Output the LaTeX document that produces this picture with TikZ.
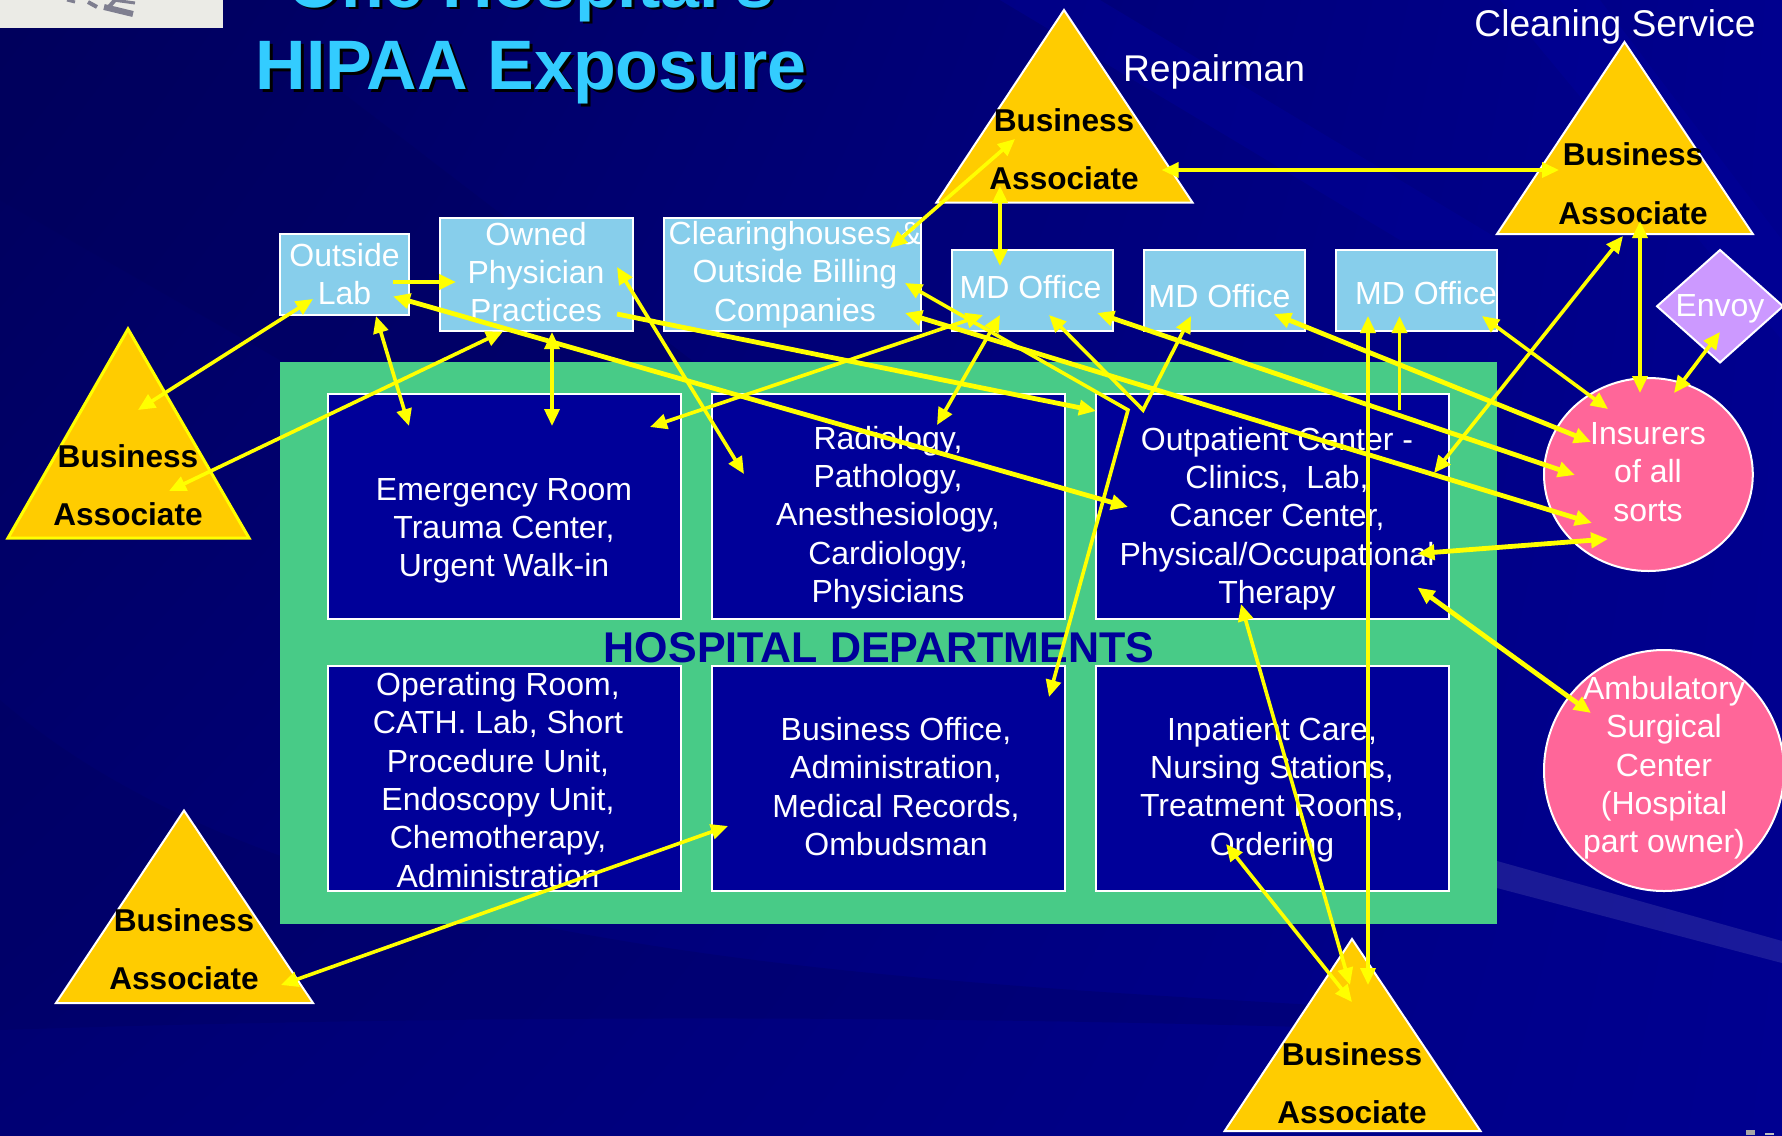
\documentclass[tikz,border=0pt]{standalone}
\usepackage{fontspec}
\setmainfont{Liberation Sans}
\usetikzlibrary{arrows.meta,shapes.geometric,shadings}
\definecolor{bgA}{HTML}{00005C}
\definecolor{bgB}{HTML}{00008E}
\definecolor{bgC}{HTML}{000074}
\definecolor{bgD}{HTML}{000090}
\definecolor{dept}{HTML}{000099}
\definecolor{grn}{HTML}{48CB87}
\definecolor{sky}{HTML}{87CEEB}
\definecolor{gold}{HTML}{FFCC00}
\definecolor{pinkc}{HTML}{FF6699}
\definecolor{purp}{HTML}{CC99FF}
\definecolor{ttl}{HTML}{33CCFF}
\definecolor{ylw}{HTML}{FFFF00}
\definecolor{photo}{HTML}{EBEBE6}
\definecolor{ink}{HTML}{7F7F90}
\tikzset{
 x=0.5pt,y=-0.5pt,
 deptbox/.style={draw=white,line width=1pt,fill=dept,inner sep=0pt,outer sep=0pt,minimum width=176.2pt},
 skybox/.style={draw=white,line width=1pt,fill=sky,inner sep=0pt,outer sep=0pt,minimum height=40.5pt},
 oval/.style={ellipse,draw=white,line width=1pt,fill=pinkc,inner sep=0pt,outer sep=0pt},
 tri/.style={draw=white,line width=1pt,fill=gold,line join=miter},
 wt/.style={text=white,font=\fontsize{16}{19.15}\selectfont,align=center,inner sep=0pt},
 wtb/.style={text=white,font=\fontsize{18.6}{22}\selectfont,align=center,inner sep=0pt},
 bl/.style={text=black,font=\fontsize{15.8}{19}\selectfont\bfseries,inner sep=0pt},
 ar/.style={draw=ylw,fill=ylw,line width=1.8pt,{Triangle[length=8.5pt,width=7.5pt]}-{Triangle[length=8.5pt,width=7.5pt]}},
 arT/.style={ar,line width=2.4pt},
 ar1/.style={draw=ylw,fill=ylw,line width=1.8pt,-{Triangle[length=8.5pt,width=7.5pt]}},
 ar1T/.style={ar1,line width=2.4pt},
 ttlf/.style={font=\fontsize{35}{41}\selectfont\bfseries,align=center,inner sep=0pt}
}
\begin{document}
\begin{tikzpicture}
\useasboundingbox (0,0) rectangle (1782,1135);
\clip (0,0) rectangle (1782,1135);
% background
\shade[upper left=bgA,upper right=bgB,lower left=bgC,lower right=bgD] (0,0) rectangle (1782,1135);
\fill[bgA,opacity=.35] (0,60) -- (300,60) -- (900,520) -- (280,360) -- (0,200) -- cycle;
\fill[bgA,opacity=.3] (0,700) .. controls (300,960) and (900,980) .. (1400,1010) -- (1400,1030) .. controls (800,1010) and (300,1020) .. (0,1030) -- cycle;
\fill[dept,opacity=.45] (1000,0) -- (1100,0) -- (1500,240) -- (1400,240) -- cycle;
\fill[dept,opacity=.5] (1500,0) -- (1600,0) -- (1782,240) -- (1782,340) -- cycle;
\fill[white,opacity=.1] (1497,861) -- (1782,941) -- (1782,963) -- (1497,888) -- cycle;
% photo fragment
\fill[photo] (0,0) rectangle (223,27.5);
\draw[ink,line width=3pt] (104,7) -- (133,14);
\draw[ink,line width=1.5pt] (113,0) -- (135,3);
\draw[ink,line width=2pt] (108,8) -- (115,0);
\draw[ink,line width=2pt] (88,2) -- (97,7);
\draw[ink,line width=1.5pt] (67,0) -- (75,2);
% corner marks
\fill[gray!70] (1746,1130) rectangle (1755,1135);
\fill[gray!50] (1765,1133) rectangle (1774,1135);
% title
\node[ttlf,text=black,anchor=base] at (534,10) {One Hospital's};
\node[ttlf,text=black,anchor=base] at (534,92) {HIPAA Exposure};
\node[ttlf,text=ttl,anchor=base] (t1) at (531,7) {One Hospital's};
\node[ttlf,text=ttl,anchor=base] (t2) at (531,89) {HIPAA Exposure};
% hospital block
\node[fill=grn,inner sep=0pt,outer sep=0pt,minimum width=608.9pt,minimum height=281.15pt] (hosp) at (888.5,642.65) {};
\node[deptbox,minimum height=112.35pt] (er) at (504.6,506.35) {};
\node[deptbox,minimum height=112.35pt] (rad) at (888.6,506.35) {};
\node[deptbox,minimum height=112.35pt] (opc) at (1272.35,506.35) {};
\node[deptbox,minimum height=112.25pt] (orm) at (504.6,778.55) {};
\node[deptbox,minimum height=112.25pt] (biz) at (888.6,778.55) {};
\node[deptbox,minimum height=112.25pt] (inp) at (1272.35,778.55) {};
\node[wt] (ertx) at (504,531) {Emergency Room\\Trauma Center,\\Urgent Walk-in};
\node[wt] (radtx) at (888,517.5) {Radiology,\\Pathology,\\Anesthesiology,\\Cardiology,\\Physicians};
\node[wt] (opctx) at (1277,518.5) {Outpatient Center -\\Clinics,\ \ Lab,\\Cancer Center,\\Physical/Occupational\\Therapy};
\node[wt] (ormtx) at (498,780) {Operating Room,\\CATH. Lab, Short\\Procedure Unit,\\Endoscopy Unit,\\Chemotherapy,\\Administration};
\node[wt] (biztx) at (896,786.5) {Business Office,\\Administration,\\Medical Records,\\Ombudsman};
\node[wt] (inptx) at (1272,789.5) {Inpatient Care,\\Nursing Stations,\\Treatment Rooms,\\Ordering};
\node[font=\fontsize{21.5}{25}\selectfont\bfseries,text=dept,inner sep=0pt] (hd) at (879,648) {HOSPITAL DEPARTMENTS};
% top boxes
\node[skybox,minimum width=64.5pt] (lab) at (344.5,274.5) {};
\node[skybox,minimum width=96.5pt,minimum height=56.5pt] (own) at (536.5,274.5) {};
\node[skybox,minimum width=128.5pt,minimum height=56.5pt] (clr) at (792.5,274.5) {};
\node[skybox,minimum width=80.3pt] (md1) at (1032.3,290.5) {};
\node[skybox,minimum width=80.5pt] (md2) at (1224.5,290.5) {};
\node[skybox,minimum width=80.5pt] (md3) at (1416.5,290.5) {};
\node[wt] (labtx) at (344.5,274) {Outside\\Lab};
\node[wt] (owntx) at (536,272) {Owned\\Physician\\Practices};
\node[wt] (clrtx) at (795,274.5) {Clearinghouses \&\\Outside Billing\\Companies};
\node[wt] (md1tx) at (1030.5,287) {MD Office};
\node[wt] (md2tx) at (1219.5,296) {MD Office};
\node[wt] (md3tx) at (1426,293) {MD Office};
% ovals, diamond
\node[oval,minimum width=104.4pt,minimum height=96.5pt] (ins) at (1648.4,474.5) {};
\node[oval,minimum width=120pt,minimum height=120.5pt] (asc) at (1664,770.5) {};
\node[diamond,draw=white,line width=1pt,fill=purp,inner sep=0pt,outer sep=0pt,minimum width=63pt,minimum height=56.25pt] (env) at (1720,306.25) {};
\node[wt] (instx) at (1648,472) {Insurers\\of all\\sorts};
\node[wt] (asctx) at (1664,768) {Ambulatory\\Surgical\\Center\\(Hospital\\part owner)};
\node[wt] (envtx) at (1720,309) {Envoy};
% triangles
\draw[tri,draw=ylw,line width=1.5pt] (128,329) -- (249,538) -- (8,538) -- cycle;
\draw[tri] (1064,10) -- (1192.5,202.5) -- (936.5,202.5) -- cycle;
\draw[tri] (1624.5,42) -- (1752.8,234) -- (1497,234) -- cycle;
\draw[tri] (184,810.5) -- (313,1003) -- (56,1003) -- cycle;
\draw[tri] (1352,939) -- (1480.5,1131) -- (1224.6,1131) -- cycle;
\node[bl] (b1) at (128,456) {Business};
\node[bl] (a1) at (128,514) {Associate};
\node[bl] (b2) at (1064,120) {Business};
\node[bl] (a2) at (1064,178) {Associate};
\node[bl] (b3) at (1633,154) {Business};
\node[bl] (a3) at (1633,213) {Associate};
\node[bl] (b4) at (184,920.5) {Business};
\node[bl] (a4) at (184,978) {Associate};
\node[bl] (b5) at (1352,1054) {Business};
\node[bl] (a5) at (1352,1112) {Associate};
\node[wtb] (rep) at (1214,72) {Repairman};
\node[wtb] (cln) at (1615,27) {Cleaning Service};
% connector ends
\coordinate (p1) at (392.6,282); \coordinate (q1) at (456,282);
\coordinate (p2) at (313,299); \coordinate (q2) at (138,410);
\coordinate (p3) at (503,331.4); \coordinate (q3) at (169,491);
\coordinate (p4) at (376,316); \coordinate (q4) at (409,426);
\coordinate (p5) at (552,332); \coordinate (q5) at (552,426);
\coordinate (p6) at (393,296.4); \coordinate (q6) at (1128,507);
\coordinate (p7) at (617,314); \coordinate (q7) at (1096,411);
\coordinate (p8) at (617,267); \coordinate (q8) at (744,474);
\coordinate (p9) at (650,427); \coordinate (q9) at (983,315);
\coordinate (p10) at (1000,315); \coordinate (q10) at (937,425);
\coordinate (p11) at (890,248); \coordinate (q11) at (1015,139);
\coordinate (p12) at (1000,186); \coordinate (q12) at (1000,266);
\coordinate (p13) at (1161.6,170); \coordinate (q13) at (1559,170);
\coordinate (p14) at (905,283); \coordinate (m14) at (1128,410); \coordinate (q14) at (1049,697);
\coordinate (p15) at (1049,315); \coordinate (m15) at (1143,410); \coordinate (q15) at (1191,316);
\coordinate (p16) at (905,313); \coordinate (q16) at (1592,523);
\coordinate (p17) at (1097,313); \coordinate (q17) at (1575,475);
\coordinate (p18) at (1274,314); \coordinate (q18) at (1591,442);
\coordinate (p19) at (1482,316); \coordinate (q19) at (1608,409);
\coordinate (p20) at (1623,236); \coordinate (q20) at (1434,473);
\coordinate (p21) at (1640,221); \coordinate (q21) at (1640,393);
\coordinate (p22) at (1720,332); \coordinate (q22) at (1674,393);
\coordinate (p23) at (1417.5,553.6); \coordinate (q23) at (1608,539);
\coordinate (p24) at (1417.5,587.5); \coordinate (q24) at (1591,713);
\coordinate (p25) at (1399.5,410); \coordinate (q25) at (1399.5,316);
\coordinate (p26) at (1368,316); \coordinate (q26) at (1368,985);
\coordinate (p27) at (1241,604); \coordinate (q27) at (1350,985);
\coordinate (p28) at (1226,844); \coordinate (q28) at (1352,1002);
\coordinate (p29) at (281,985); \coordinate (q29) at (728,826);
% connectors
\draw[ar1T] (p1) -- (q1);
\draw[ar] (p2) -- (q2);
\draw[ar] (p3) -- (q3);
\draw[ar] (p4) -- (q4);
\draw[ar] (p5) -- (q5);
\draw[arT] (p6) -- (q6);
\draw[ar1T] (p7) -- (q7);
\draw[ar] (p8) -- (q8);
\draw[ar] (p9) -- (q9);
\draw[ar] (p10) -- (q10);
\draw[ar] (p11) -- (q11);
\draw[ar] (p12) -- (q12);
\draw[ar] (p13) -- (q13);
\draw[ar,fill=none] (p14) -- (m14) -- (q14);
\draw[ar,fill=none] (p15) -- (m15) -- (q15);
\draw[arT] (p16) -- (q16);
\draw[arT] (p17) -- (q17);
\draw[arT] (p18) -- (q18);
\draw[ar] (p19) -- (q19);
\draw[ar] (p20) -- (q20);
\draw[ar] (p21) -- (q21);
\draw[ar] (p22) -- (q22);
\draw[arT] (p23) -- (q23);
\draw[arT] (p24) -- (q24);
\draw[ar1] (p25) -- (q25);
\draw[ar] (p26) -- (q26);
\draw[ar] (p27) -- (q27);
\draw[ar] (p28) -- (q28);
\draw[ar] (p29) -- (q29);
\end{tikzpicture}
\end{document}
